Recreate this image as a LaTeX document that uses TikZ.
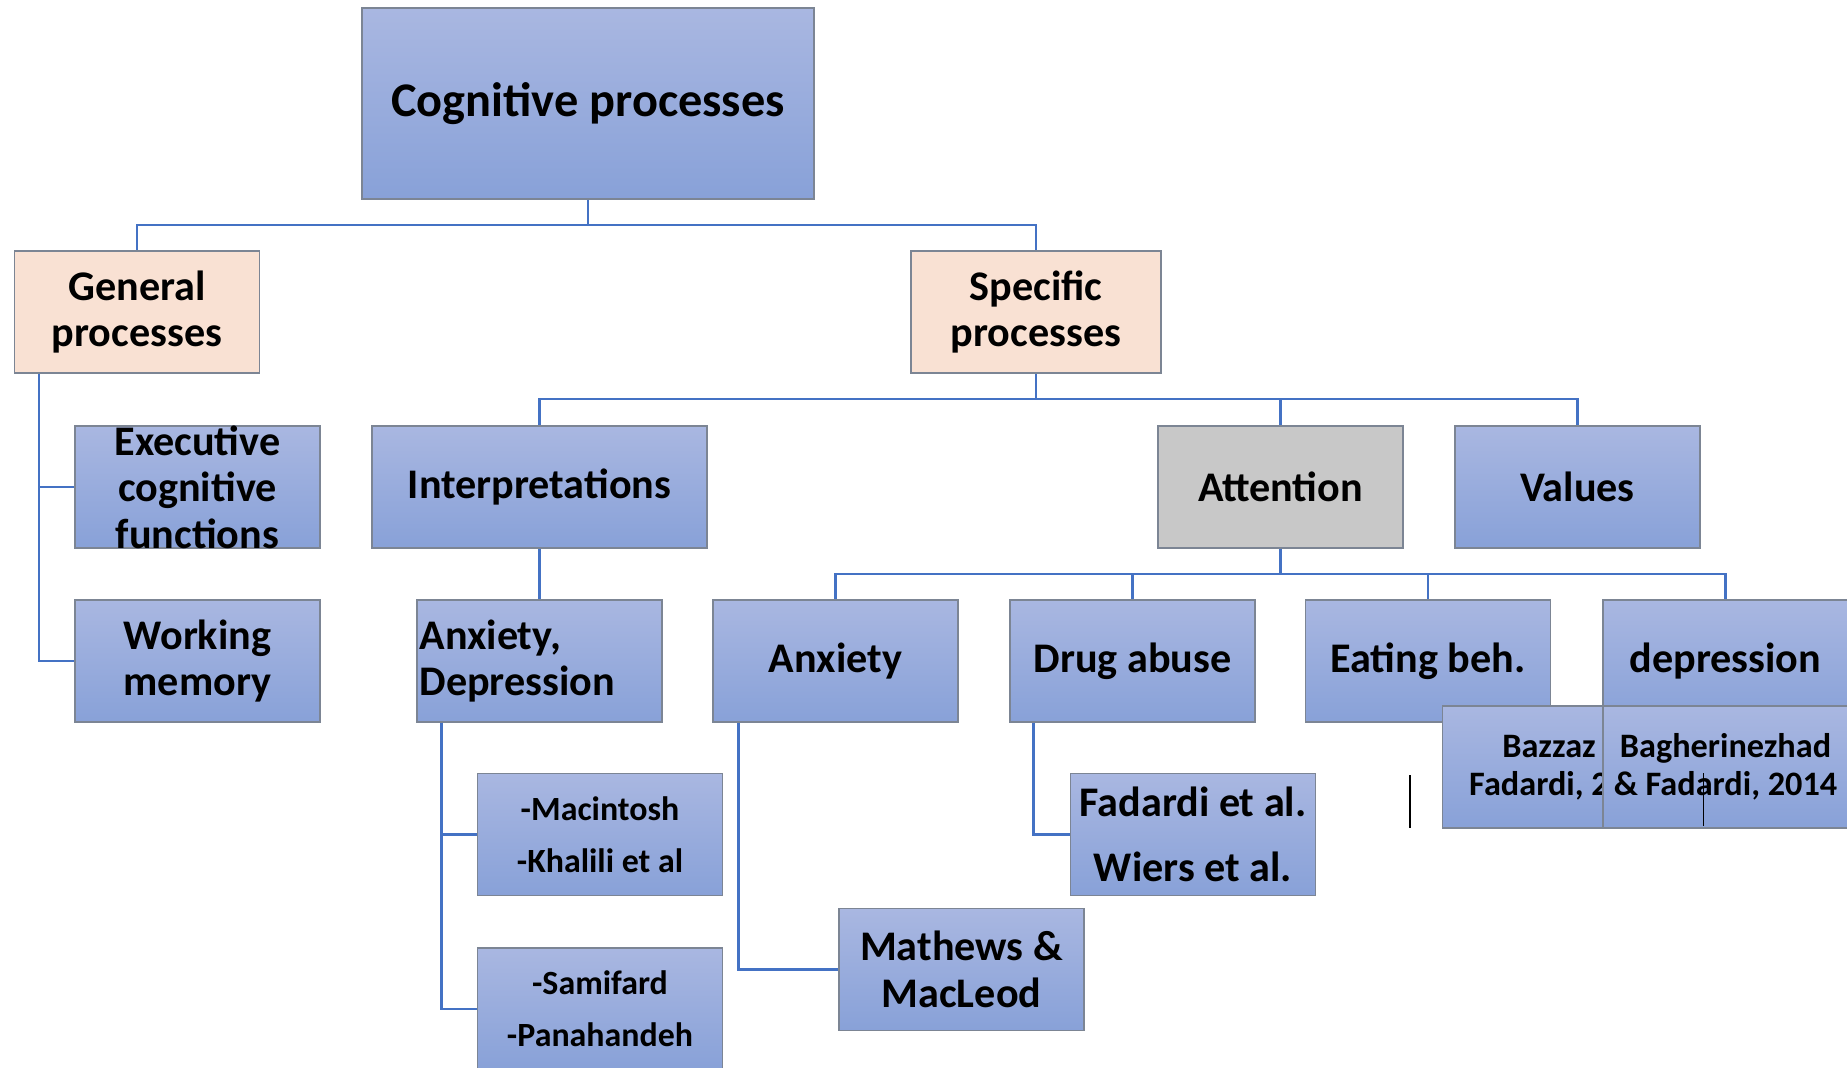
\documentclass[tikz,border=0pt]{standalone}
\usepackage{fontspec}
\setmainfont{Carlito}
\usetikzlibrary{positioning}
\definecolor{blueTop}{HTML}{A9B7E1}
\definecolor{blueBot}{HTML}{88A1D8}
\definecolor{boxLine}{HTML}{7C8594}
\definecolor{linkBlue}{HTML}{4472C4}
\definecolor{peach}{HTML}{F9E1D3}
\definecolor{attGray}{HTML}{C8C8C8}
\tikzset{
  box/.style={draw=boxLine, line width=0.8pt, top color=blueTop, bottom color=blueBot,
    minimum width=4.9cm, minimum height=2.44cm, inner sep=1pt, align=center,
    font=\bfseries\fontsize{24}{26.5}\selectfont},
  catbox/.style={box, fill=peach, top color=peach, bottom color=peach},
  refbox/.style={box, font=\bfseries\fontsize{19.3}{29.6}\selectfont},
  citebox/.style={box, font=\bfseries\fontsize{19.5}{21.5}\selectfont},
  link/.style={draw=linkBlue, line width=1.4pt},
  stray/.style={draw=black, line width=0.6pt}
}
\begin{document}
\begin{tikzpicture}[x=0.02cm,y=-0.02cm]
\useasboundingbox (0,0) rectangle (1847,1068);
% Top
\node[box, minimum width=9.04cm, minimum height=3.82cm, font=\bfseries\fontsize{27.5}{32}\selectfont] (root) at (588,103.5) {Cognitive processes};
\node[catbox] (gen) at (137,312) {General\\processes};
\node[catbox, minimum width=5cm] (spec) at (1036,312) {Specific\\processes};
% General
\node[box, inner ysep=-4.5pt] (exec) at (197.5,487) {Executive\\cognitive\\functions};
\node[box] (wm) at (197.5,661) {Working\\memory};
% Specific
\node[box, minimum width=6.7cm] (interp) at (539.5,487) {Interpretations};
\node[box, fill=attGray, top color=attGray, bottom color=attGray] (att) at (1280.5,487) {Attention};
\node[box] (val) at (1577.5,487) {Values};
\node[box, align=left, text width=4.8cm] (ad) at (539.5,661) {Anxiety,\\Depression};
\node[box] (anx) at (835.5,661) {Anxiety};
\node[box] (drug) at (1132.5,661) {Drug abuse};
\node[box] (eat) at (1428,661) {Eating beh.};
\node[box] (dep) at (1725.5,661) {depression};
% References
\node[refbox] (mac) at (600,834.5) {-Macintosh\\-Khalili et al};
\node[refbox] (sami) at (600,1009) {-Samifard\\-Panahandeh};
\node[box] (mat) at (961.5,969.5) {Mathews \&\\MacLeod};
\node[box, font=\bfseries\fontsize{24}{37}\selectfont] (fad) at (1193,834.5) {Fadardi et al.\\Wiers et al.};
\node[citebox] (baz) at (1565,767) {Bazzaz\phantom{ \&}\\Fadardi, 2\phantom{014}};
\node[citebox] (bag) at (1725.5,767) {Bagherinezhad\\\& Fadardi, 2014};
% Connectors
\coordinate (bus1) at (588,225);
\draw[link] (root.south) -- (bus1) -| (gen.north);
\draw[link] (bus1) -| (spec.north);
\draw[link] (gen.south west) ++(25,0) |- (exec.west);
\draw[link] (gen.south west) ++(25,0) |- (wm.west);
\coordinate (bus2) at (1036,399);
\draw[link] (spec.south) -- (bus2) -| (interp.north);
\draw[link] (bus2) -| (att.north);
\draw[link] (bus2) -| (val.north);
\draw[link] (interp.south) -- (ad.north);
\coordinate (bus3) at (1280.5,574);
\draw[link] (att.south) -- (bus3) -| (anx.north);
\draw[link] (bus3) -| (drug.north);
\draw[link] (bus3) -| (eat.north);
\draw[link] (bus3) -| (dep.north);
\draw[link] (ad.south west) ++(25,0) |- (mac.west);
\draw[link] (ad.south west) ++(25,0) |- (sami.west);
\draw[link] (anx.south west) ++(26,0) |- (mat.west);
\draw[link] (drug.south west) ++(24,0) |- (fad.west);
% Stray marks
\coordinate (m1) at (1410,775);
\coordinate (m2) at (1703.5,773);
\draw[stray] (m1) -- ++(0,53);
\draw[stray] (m2) -- ++(0,53);
\end{tikzpicture}
\end{document}
